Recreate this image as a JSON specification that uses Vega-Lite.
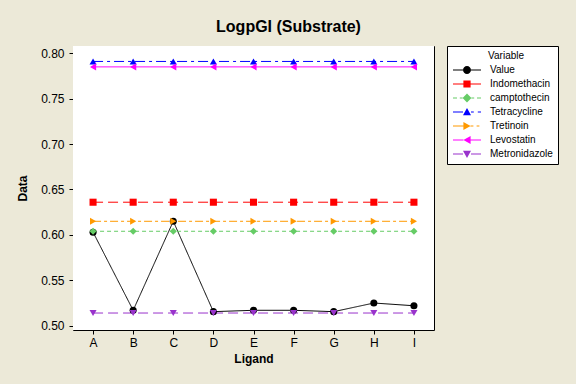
{
  "$schema": "https://vega.github.io/schema/vega-lite/v6.json",
  "width": 361,
  "height": 284,
  "autosize": "none",
  "padding": {"left": 73, "top": 46, "right": 142, "bottom": 54},
  "background": "#ECE9D8",
  "view": {"stroke": "black", "strokeWidth": 1},
  "title": {
    "text": "LogpGI (Substrate)",
    "font": "Liberation Sans",
    "fontSize": 16,
    "fontWeight": "bold",
    "color": "black",
    "anchor": "middle",
    "dx": 35,
    "offset": 11
  },
  "config": {
    "axis": {
      "labelFont": "Liberation Sans",
      "labelFontSize": 12,
      "labelColor": "black",
      "titleFont": "Liberation Sans",
      "titleFontSize": 12,
      "titleFontWeight": "bold",
      "titleColor": "black",
      "tickColor": "black",
      "tickSize": 4,
      "domain": false,
      "grid": false
    }
  },
  "data": {
    "values": [
      {"Ligand": "A", "Variable": "Value", "Data": 0.603},
      {"Ligand": "B", "Variable": "Value", "Data": 0.517},
      {"Ligand": "C", "Variable": "Value", "Data": 0.615},
      {"Ligand": "D", "Variable": "Value", "Data": 0.5155},
      {"Ligand": "E", "Variable": "Value", "Data": 0.517},
      {"Ligand": "F", "Variable": "Value", "Data": 0.517},
      {"Ligand": "G", "Variable": "Value", "Data": 0.5155},
      {"Ligand": "H", "Variable": "Value", "Data": 0.525},
      {"Ligand": "I", "Variable": "Value", "Data": 0.522},
      {"Ligand": "A", "Variable": "Indomethacin", "Data": 0.636},
      {"Ligand": "B", "Variable": "Indomethacin", "Data": 0.636},
      {"Ligand": "C", "Variable": "Indomethacin", "Data": 0.636},
      {"Ligand": "D", "Variable": "Indomethacin", "Data": 0.636},
      {"Ligand": "E", "Variable": "Indomethacin", "Data": 0.636},
      {"Ligand": "F", "Variable": "Indomethacin", "Data": 0.636},
      {"Ligand": "G", "Variable": "Indomethacin", "Data": 0.636},
      {"Ligand": "H", "Variable": "Indomethacin", "Data": 0.636},
      {"Ligand": "I", "Variable": "Indomethacin", "Data": 0.636},
      {"Ligand": "A", "Variable": "camptothecin", "Data": 0.604},
      {"Ligand": "B", "Variable": "camptothecin", "Data": 0.604},
      {"Ligand": "C", "Variable": "camptothecin", "Data": 0.604},
      {"Ligand": "D", "Variable": "camptothecin", "Data": 0.604},
      {"Ligand": "E", "Variable": "camptothecin", "Data": 0.604},
      {"Ligand": "F", "Variable": "camptothecin", "Data": 0.604},
      {"Ligand": "G", "Variable": "camptothecin", "Data": 0.604},
      {"Ligand": "H", "Variable": "camptothecin", "Data": 0.604},
      {"Ligand": "I", "Variable": "camptothecin", "Data": 0.604},
      {"Ligand": "A", "Variable": "Tetracycline", "Data": 0.791},
      {"Ligand": "B", "Variable": "Tetracycline", "Data": 0.791},
      {"Ligand": "C", "Variable": "Tetracycline", "Data": 0.791},
      {"Ligand": "D", "Variable": "Tetracycline", "Data": 0.791},
      {"Ligand": "E", "Variable": "Tetracycline", "Data": 0.791},
      {"Ligand": "F", "Variable": "Tetracycline", "Data": 0.791},
      {"Ligand": "G", "Variable": "Tetracycline", "Data": 0.791},
      {"Ligand": "H", "Variable": "Tetracycline", "Data": 0.791},
      {"Ligand": "I", "Variable": "Tetracycline", "Data": 0.791},
      {"Ligand": "A", "Variable": "Tretinoin", "Data": 0.615},
      {"Ligand": "B", "Variable": "Tretinoin", "Data": 0.615},
      {"Ligand": "C", "Variable": "Tretinoin", "Data": 0.615},
      {"Ligand": "D", "Variable": "Tretinoin", "Data": 0.615},
      {"Ligand": "E", "Variable": "Tretinoin", "Data": 0.615},
      {"Ligand": "F", "Variable": "Tretinoin", "Data": 0.615},
      {"Ligand": "G", "Variable": "Tretinoin", "Data": 0.615},
      {"Ligand": "H", "Variable": "Tretinoin", "Data": 0.615},
      {"Ligand": "I", "Variable": "Tretinoin", "Data": 0.615},
      {"Ligand": "A", "Variable": "Levostatin", "Data": 0.785},
      {"Ligand": "B", "Variable": "Levostatin", "Data": 0.785},
      {"Ligand": "C", "Variable": "Levostatin", "Data": 0.785},
      {"Ligand": "D", "Variable": "Levostatin", "Data": 0.785},
      {"Ligand": "E", "Variable": "Levostatin", "Data": 0.785},
      {"Ligand": "F", "Variable": "Levostatin", "Data": 0.785},
      {"Ligand": "G", "Variable": "Levostatin", "Data": 0.785},
      {"Ligand": "H", "Variable": "Levostatin", "Data": 0.785},
      {"Ligand": "I", "Variable": "Levostatin", "Data": 0.785},
      {"Ligand": "A", "Variable": "Metronidazole", "Data": 0.514},
      {"Ligand": "B", "Variable": "Metronidazole", "Data": 0.514},
      {"Ligand": "C", "Variable": "Metronidazole", "Data": 0.514},
      {"Ligand": "D", "Variable": "Metronidazole", "Data": 0.514},
      {"Ligand": "E", "Variable": "Metronidazole", "Data": 0.514},
      {"Ligand": "F", "Variable": "Metronidazole", "Data": 0.514},
      {"Ligand": "G", "Variable": "Metronidazole", "Data": 0.514},
      {"Ligand": "H", "Variable": "Metronidazole", "Data": 0.514},
      {"Ligand": "I", "Variable": "Metronidazole", "Data": 0.514}
    ]
  },
  "resolve": {"scale": {"color": "independent", "shape": "independent", "strokeDash": "independent"}},
  "layer": [
    {
      "transform": [{"filter": "datum.Ligand == 'A' && datum.Variable == 'Value'"}],
      "mark": {"type": "rect", "fill": "white", "stroke": null},
      "encoding": {}
    },
    {
      "mark": {"type": "line", "strokeWidth": 1},
      "encoding": {
        "x": {
          "field": "Ligand", "type": "ordinal",
          "scale": {"type": "point", "padding": 0.5},
          "axis": {"title": "Ligand", "labelAngle": 0, "labelPadding": 3, "titlePadding": 5}
        },
        "y": {
          "field": "Data", "type": "quantitative",
          "scale": {"domain": [0.4953, 0.808], "nice": false, "zero": false},
          "axis": {"title": "Data", "values": [0.5, 0.55, 0.6, 0.65, 0.7, 0.75, 0.8], "format": ".2f", "labelPadding": 5, "titlePadding": 11}
        },
        "color": {
          "field": "Variable", "type": "nominal", "legend": null,
          "scale": {
            "domain": ["Value", "Indomethacin", "camptothecin", "Tetracycline", "Tretinoin", "Levostatin", "Metronidazole"],
            "range": ["#000000", "#FF0000", "#66CC66", "#0000FF", "#FF9900", "#FF00FF", "#9933CC"]
          }
        },
        "strokeDash": {
          "field": "Variable", "type": "nominal", "legend": null,
          "scale": {
            "domain": ["Value", "Indomethacin", "camptothecin", "Tetracycline", "Tretinoin", "Levostatin", "Metronidazole"],
            "range": [[1, 0], [10, 5], [4, 3], [10, 4, 3, 4], [8, 3, 3, 3], [1, 0], [10, 5]]
          }
        }
      }
    },
    {
      "mark": {"type": "point", "filled": true, "opacity": 1, "size": 50},
      "encoding": {
        "x": {"field": "Ligand", "type": "ordinal"},
        "y": {"field": "Data", "type": "quantitative"},
        "color": {
          "field": "Variable", "type": "nominal", "legend": null,
          "scale": {
            "domain": ["Value", "Indomethacin", "camptothecin", "Tetracycline", "Tretinoin", "Levostatin", "Metronidazole"],
            "range": ["#000000", "#FF0000", "#66CC66", "#0000FF", "#FF9900", "#FF00FF", "#9933CC"]
          }
        },
        "shape": {
          "field": "Variable", "type": "nominal", "legend": null,
          "scale": {
            "domain": ["Value", "Indomethacin", "camptothecin", "Tetracycline", "Tretinoin", "Levostatin", "Metronidazole"],
            "range": ["circle", "square", "diamond", "triangle-up", "triangle-right", "triangle-left", "triangle-down"]
          }
        }
      }
    },
    {
      "transform": [{"filter": "false"}],
      "mark": {"type": "point", "filled": true, "opacity": 1},
      "encoding": {
        "color": {
          "field": "Variable", "type": "nominal",
          "scale": {
            "domain": ["Value", "Indomethacin", "camptothecin", "Tetracycline", "Tretinoin", "Levostatin", "Metronidazole"],
            "range": ["#000000", "#FF0000", "#66CC66", "#0000FF", "#FF9900", "#FF00FF", "#9933CC"]
          },
          "legend": {
            "orient": "none", "legendX": 374, "legendY": 0,
            "title": "\u200b\u00a0\u00a0\u00a0\u00a0\u00a0\u00a0\u00a0\u00a0\u00a0\u00a0\u00a0\u00a0\u00a0Variable",
            "symbolSize": 64, "symbolStrokeWidth": 0, "symbolOpacity": 1,
            "labelOffset": 28, "strokeColor": "black", "fillColor": "white",
            "padding": 5, "rowPadding": 4, "titlePadding": 4,
            "labelFont": "Liberation Sans", "labelFontSize": 10, "labelColor": "black",
            "titleFont": "Liberation Sans", "titleFontSize": 10, "titleFontWeight": "normal", "titleColor": "black"
          }
        },
        "shape": {
          "field": "Variable", "type": "nominal",
          "scale": {
            "domain": ["Value", "Indomethacin", "camptothecin", "Tetracycline", "Tretinoin", "Levostatin", "Metronidazole"],
            "range": [
              "M-1,-0.125H1.5V0.125H-1Z M3.5,-0.125H6V0.125H3.5Z M1.5,0A1,1 0 1,1 3.5,0A1,1 0 1,1 1.5,0Z",
              "M-1,-0.125H1.6V0.125H-1Z M3.4,-0.125H6V0.125H3.4Z M1.6,-0.9H3.4V0.9H1.6Z",
              "M-1,-0.125H0V0.125H-1Z M0.7,-0.125H1.4V0.125H0.7Z M3.6,-0.125H4.3V0.125H3.6Z M5,-0.125H6V0.125H5Z M2.5,-1.1L3.6,0L2.5,1.1L1.4,0Z",
              "M-1,-0.125H1.5V0.125H-1Z M3.5,-0.125H4.2V0.125H3.5Z M5.2,-0.125H6V0.125H5.2Z M2.5,-1L3.5,0.8L1.5,0.8Z",
              "M-1,-0.125H1.6V0.125H-1Z M3.4,-0.125H4.1V0.125H3.4Z M4.9,-0.125H5.6V0.125H4.9Z M1.6,-1L3.4,0L1.6,1Z",
              "M-1,-0.125H1.6V0.125H-1Z M3.4,-0.125H6V0.125H3.4Z M3.4,-1L1.6,0L3.4,1Z",
              "M-1,-0.125H1.5V0.125H-1Z M3.5,-0.125H6V0.125H3.5Z M1.5,-0.8H3.5L2.5,1Z"
            ]
          }
        }
      }
    }
  ]
}
